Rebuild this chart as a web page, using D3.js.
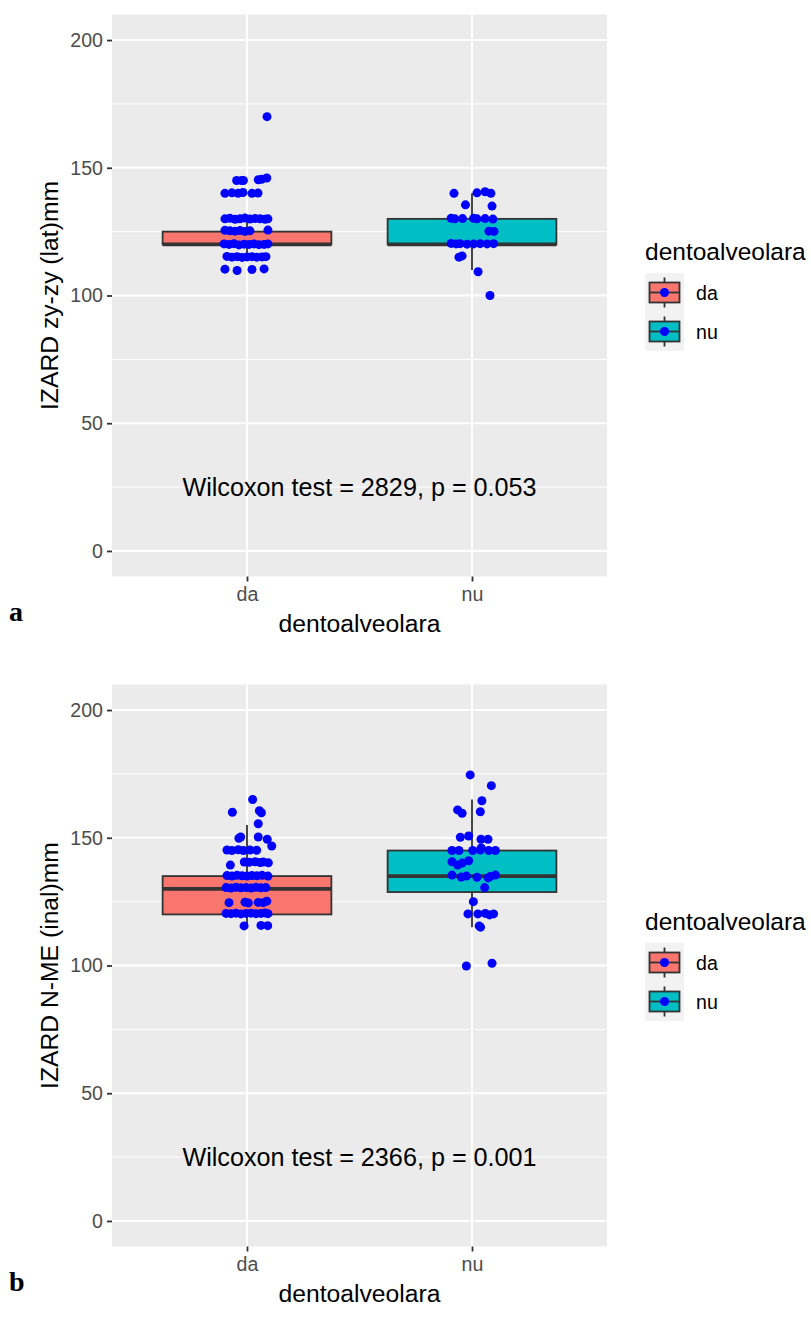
<!DOCTYPE html>
<html>
<head>
<meta charset="utf-8">
<script src="https://cdn.jsdelivr.net/npm/d3@7"></script>
<style>
  html, body { margin: 0; padding: 0; background: #ffffff; }
  svg { display: block; }
</style>
</head>
<body>
<div id="chart"></div>
<script>
// ---------------- data ----------------
const categories = ["da", "nu"];
const fillColors = ["#F8766D", "#00BFC4"];
const yTicks = [0, 50, 100, 150, 200];
const yMinorTicks = [25, 75, 125, 175];
const panelTags = ["a", "b"];
const yTitles = ["IZARD zy-zy (lat)mm", "IZARD N-ME (inal)mm"];
const xTitle = "dentoalveolara";
const legendTitle = "dentoalveolara";
const testLabels = ["Wilcoxon test = 2829, p = 0.053", "Wilcoxon test = 2366, p = 0.001"];
const testLabelY = 25;

// box stats: [lower whisker, Q1, median, Q3, upper whisker]
const boxA_da = [115, 120, 120, 125, 130];
const boxA_nu = [110, 120, 120, 130, 140];
const boxB_da = [115, 120, 130, 135, 155];
const boxB_nu = [115, 128.75, 135, 145, 165];

// points: [value, horizontal jitter in category units]
const pointsA_da = [
  [170, 0.089],
  [145, -0.046], [145, -0.024], [145, -0.016], [145.3, 0.050], [145.5, 0.065], [146, 0.088],
  [140, -0.098], [140.2, -0.067], [140, -0.040], [140.3, -0.018], [140, 0.022], [140.1, 0.049],
  [130, -0.098], [130.2, -0.076], [129.8, -0.053], [130, -0.031], [130.3, -0.009], [129.9, 0.013], [130.1, 0.036], [130, 0.058], [129.8, 0.080], [130, 0.093],
  [125.5, -0.098], [125.3, -0.076], [125.2, -0.053], [125.4, -0.031], [125.1, -0.009], [125.3, 0.013], [125.6, 0.093],
  [120.2, -0.102], [120, -0.080], [120.3, -0.058], [119.8, -0.036], [120.1, -0.013], [120, 0.009], [120.2, 0.031], [119.9, 0.053], [120, 0.076], [120.2, 0.093],
  [115.3, -0.089], [115, -0.067], [115.2, -0.044], [114.9, -0.022], [115.1, 0], [115.2, 0.022], [115, 0.044], [115.1, 0.067], [115.2, 0.084],
  [110.3, -0.098], [109.8, -0.044], [110.2, 0.022], [110.4, 0.076]
];
const pointsA_nu = [
  [140, -0.080], [140.2, 0.022], [140.6, 0.058], [140, 0.084],
  [135.5, -0.029], [135, 0.089],
  [130.2, -0.093], [130, -0.076], [130.1, -0.042], [130.2, 0.007], [130, 0.022], [130.1, 0.058], [129.9, 0.093],
  [125.2, 0.075], [125.1, 0.098],
  [120.4, -0.093], [120.2, -0.071], [120.3, -0.053], [120.1, -0.022], [120.2, 0.007], [120.3, 0.036], [120.2, 0.067], [120.3, 0.096],
  [115, -0.058], [115.5, -0.044],
  [109.3, 0.027],
  [100, 0.080]
];
const pointsB_da = [
  [165, 0.025],
  [160, -0.065], [160.6, 0.055], [159.8, 0.064],
  [155.5, 0.050],
  [150.3, -0.028], [149.8, -0.036], [150.3, 0.050], [149.4, 0.090], [146.8, 0.110],
  [145.2, -0.089], [145, -0.067], [145.3, -0.039], [145, -0.016], [145.2, 0.013], [145.1, 0.043],
  [139.3, -0.074], [140.5, -0.012], [140.4, 0.010], [140.6, 0.036], [140.3, 0.058], [140.5, 0.072], [140.2, 0.095],
  [135.2, -0.089], [135, -0.067], [135.3, -0.044], [135.1, -0.022], [135, 0], [135.2, 0.022], [135.1, 0.044], [135.3, 0.067], [135, 0.093],
  [130.5, -0.093], [130.3, -0.071], [130.6, -0.049], [130.4, -0.027], [130.5, -0.004], [130.3, 0.018], [130.6, 0.040], [130.4, 0.062], [130.5, 0.084],
  [124.6, -0.080], [124.8, -0.009], [124.5, 0.006], [124.7, 0.050], [124.6, 0.072], [125.2, 0.088],
  [120.4, -0.093], [120.3, -0.071], [120.5, -0.049], [120.2, -0.027], [120.4, -0.004], [120.5, 0.018], [120.3, 0.040], [120.4, 0.062], [120.6, 0.080], [120.3, 0.093],
  [115.5, -0.013], [115.7, 0.062], [115.6, 0.092]
];
const pointsB_nu = [
  [174.6, -0.008], [170.4, 0.086], [164.5, 0.044],
  [160.9, -0.064], [159.6, -0.044], [160.2, 0.037],
  [150.2, -0.052], [150.7, -0.015], [149.4, 0.040], [149.4, 0.071],
  [145, -0.089], [145, -0.058], [145, 0.003], [145.2, 0.037], [145, 0.074], [145, 0.104], [146, 0.041],
  [140.6, -0.089], [139.3, -0.064], [140.1, -0.044], [141, -0.015],
  [135.4, -0.089], [134.6, -0.048], [135, -0.025], [134.5, 0.022], [134.3, 0.071], [134.8, 0.081], [135.4, 0.104],
  [130.5, 0.056],
  [125, 0.006],
  [120.2, -0.018], [120.2, 0.026], [120.4, 0.059], [119.8, 0.078], [120.2, 0.096],
  [115.5, 0.032], [115, 0.038],
  [99.8, -0.025], [100.9, 0.089]
];

const panels = [
  { tag: panelTags[0], yTitle: yTitles[0], label: testLabels[0], boxes: [boxA_da, boxA_nu], points: [pointsA_da, pointsA_nu] },
  { tag: panelTags[1], yTitle: yTitles[1], label: testLabels[1], boxes: [boxB_da, boxB_nu], points: [pointsB_da, pointsB_nu] }
];

// ---------------- layout ----------------
const W = 811, H = 1320;
const panelLeft = 112, panelRight = 607;
const panelTops = [14.5, 684.5];
const panelH = 562;
const font = "Arial, 'Liberation Sans', Helvetica, sans-serif";

const svg = d3.select("#chart").append("svg")
  .attr("width", W).attr("height", H)
  .attr("viewBox", `0 0 ${W} ${H}`);

svg.append("rect").attr("width", W).attr("height", H).attr("fill", "#ffffff");

const x = d3.scaleLinear().domain([0.4, 2.6]).range([panelLeft, panelRight]);

panels.forEach((p, pi) => {
  const top = panelTops[pi];
  const bottom = top + panelH;
  const y = d3.scaleLinear().domain([-10, 210]).range([bottom, top]);
  const g = svg.append("g");

  // panel background
  g.append("rect").attr("x", panelLeft).attr("y", top)
    .attr("width", panelRight - panelLeft).attr("height", panelH)
    .attr("fill", "#EBEBEB");

  // minor grid
  g.selectAll(".minor").data(yMinorTicks).join("line")
    .attr("x1", panelLeft).attr("x2", panelRight)
    .attr("y1", d => y(d)).attr("y2", d => y(d))
    .attr("stroke", "#ffffff").attr("stroke-width", 1);
  // major grid
  g.selectAll(".major").data(yTicks).join("line")
    .attr("x1", panelLeft).attr("x2", panelRight)
    .attr("y1", d => y(d)).attr("y2", d => y(d))
    .attr("stroke", "#ffffff").attr("stroke-width", 2);
  g.selectAll(".vmajor").data(categories).join("line")
    .attr("x1", (d, i) => x(i + 1)).attr("x2", (d, i) => x(i + 1))
    .attr("y1", top).attr("y2", bottom)
    .attr("stroke", "#ffffff").attr("stroke-width", 2);

  // boxplots
  categories.forEach((c, ci) => {
    const b = p.boxes[ci];
    const cx = x(ci + 1);
    const hw = x(ci + 1 + 0.375) - cx;
    g.append("line").attr("x1", cx).attr("x2", cx)
      .attr("y1", y(b[3])).attr("y2", y(b[4]))
      .attr("stroke", "#333333").attr("stroke-width", 1.8);
    g.append("line").attr("x1", cx).attr("x2", cx)
      .attr("y1", y(b[1])).attr("y2", y(b[0]))
      .attr("stroke", "#333333").attr("stroke-width", 1.8);
    g.append("rect").attr("x", cx - hw).attr("y", y(b[3]))
      .attr("width", 2 * hw).attr("height", y(b[1]) - y(b[3]))
      .attr("fill", fillColors[ci]).attr("stroke", "#333333").attr("stroke-width", 1.8);
    g.append("line").attr("x1", cx - hw).attr("x2", cx + hw)
      .attr("y1", y(b[2])).attr("y2", y(b[2]))
      .attr("stroke", "#333333").attr("stroke-width", 3.6);
  });

  // jittered points
  categories.forEach((c, ci) => {
    g.selectAll(null).data(p.points[ci]).join("circle")
      .attr("cx", d => x(ci + 1 + d[1]))
      .attr("cy", d => y(d[0]))
      .attr("r", 4.5)
      .attr("fill", "#0000FF");
  });

  // test label
  g.append("text").attr("x", x(1.5)).attr("y", y(testLabelY) + 9)
    .attr("text-anchor", "middle").attr("font-family", font)
    .attr("font-size", 25.2).attr("fill", "#000000").text(p.label);

  // y axis ticks and labels
  const yAxis = d3.axisLeft(y).tickValues(yTicks).tickSize(5).tickPadding(4);
  const ya = g.append("g").attr("transform", `translate(${panelLeft},0)`).call(yAxis);
  ya.select(".domain").remove();
  ya.selectAll(".tick line").attr("stroke", "#333333").attr("stroke-width", 1.8);
  ya.selectAll(".tick text").attr("font-family", font).attr("font-size", 19.6).attr("fill", "#4D4D4D");

  // x axis
  const xAxis = d3.axisBottom(x).tickValues([1, 2]).tickFormat(d => categories[d - 1]).tickSize(5).tickPadding(6);
  const xa = g.append("g").attr("transform", `translate(0,${bottom})`).call(xAxis);
  xa.select(".domain").remove();
  xa.selectAll(".tick line").attr("stroke", "#333333").attr("stroke-width", 1.8);
  xa.selectAll(".tick text").attr("font-family", font).attr("font-size", 19.6).attr("fill", "#4D4D4D");

  // axis titles
  g.append("text").attr("x", (panelLeft + panelRight) / 2).attr("y", bottom + 55.5)
    .attr("text-anchor", "middle").attr("font-family", font).attr("font-size", 24.7)
    .attr("fill", "#000000").text(xTitle);
  g.append("text")
    .attr("transform", `translate(58,${(top + bottom) / 2}) rotate(-90)`)
    .attr("text-anchor", "middle").attr("font-family", font).attr("font-size", 24.7)
    .attr("fill", "#000000").text(p.yTitle);

  // legend
  const lx = 645, ly = top + 245.5;
  g.append("text").attr("x", lx).attr("y", ly).attr("font-family", font)
    .attr("font-size", 24.5).attr("fill", "#000000").text(legendTitle);
  const keySize = 39;
  categories.forEach((c, ci) => {
    const ky = ly + 13 + ci * keySize;
    const kc = ky + keySize / 2;
    const kx = lx + keySize / 2;
    g.append("rect").attr("x", lx).attr("y", ky).attr("width", keySize).attr("height", keySize)
      .attr("fill", "#F2F2F2");
    g.append("line").attr("x1", kx).attr("x2", kx).attr("y1", kc - 15).attr("y2", kc + 15)
      .attr("stroke", "#333333").attr("stroke-width", 1.8);
    g.append("rect").attr("x", kx - 15).attr("y", kc - 10).attr("width", 30).attr("height", 20)
      .attr("fill", fillColors[ci]).attr("stroke", "#333333").attr("stroke-width", 1.8);
    g.append("line").attr("x1", kx - 15).attr("x2", kx + 15).attr("y1", kc).attr("y2", kc)
      .attr("stroke", "#333333").attr("stroke-width", 1.8);
    g.append("circle").attr("cx", kx).attr("cy", kc).attr("r", 4.5).attr("fill", "#0000FF");
    g.append("text").attr("x", lx + 51).attr("y", kc + 7).attr("font-family", font)
      .attr("font-size", 19.6).attr("fill", "#000000").text(c);
  });

  // panel tag
  g.append("text").attr("x", 9).attr("y", bottom + 44)
    .attr("font-family", "'Liberation Serif', 'Times New Roman', serif")
    .attr("font-weight", "bold").attr("font-size", 28).attr("fill", "#000000").text(p.tag);
});
</script>
</body>
</html>
